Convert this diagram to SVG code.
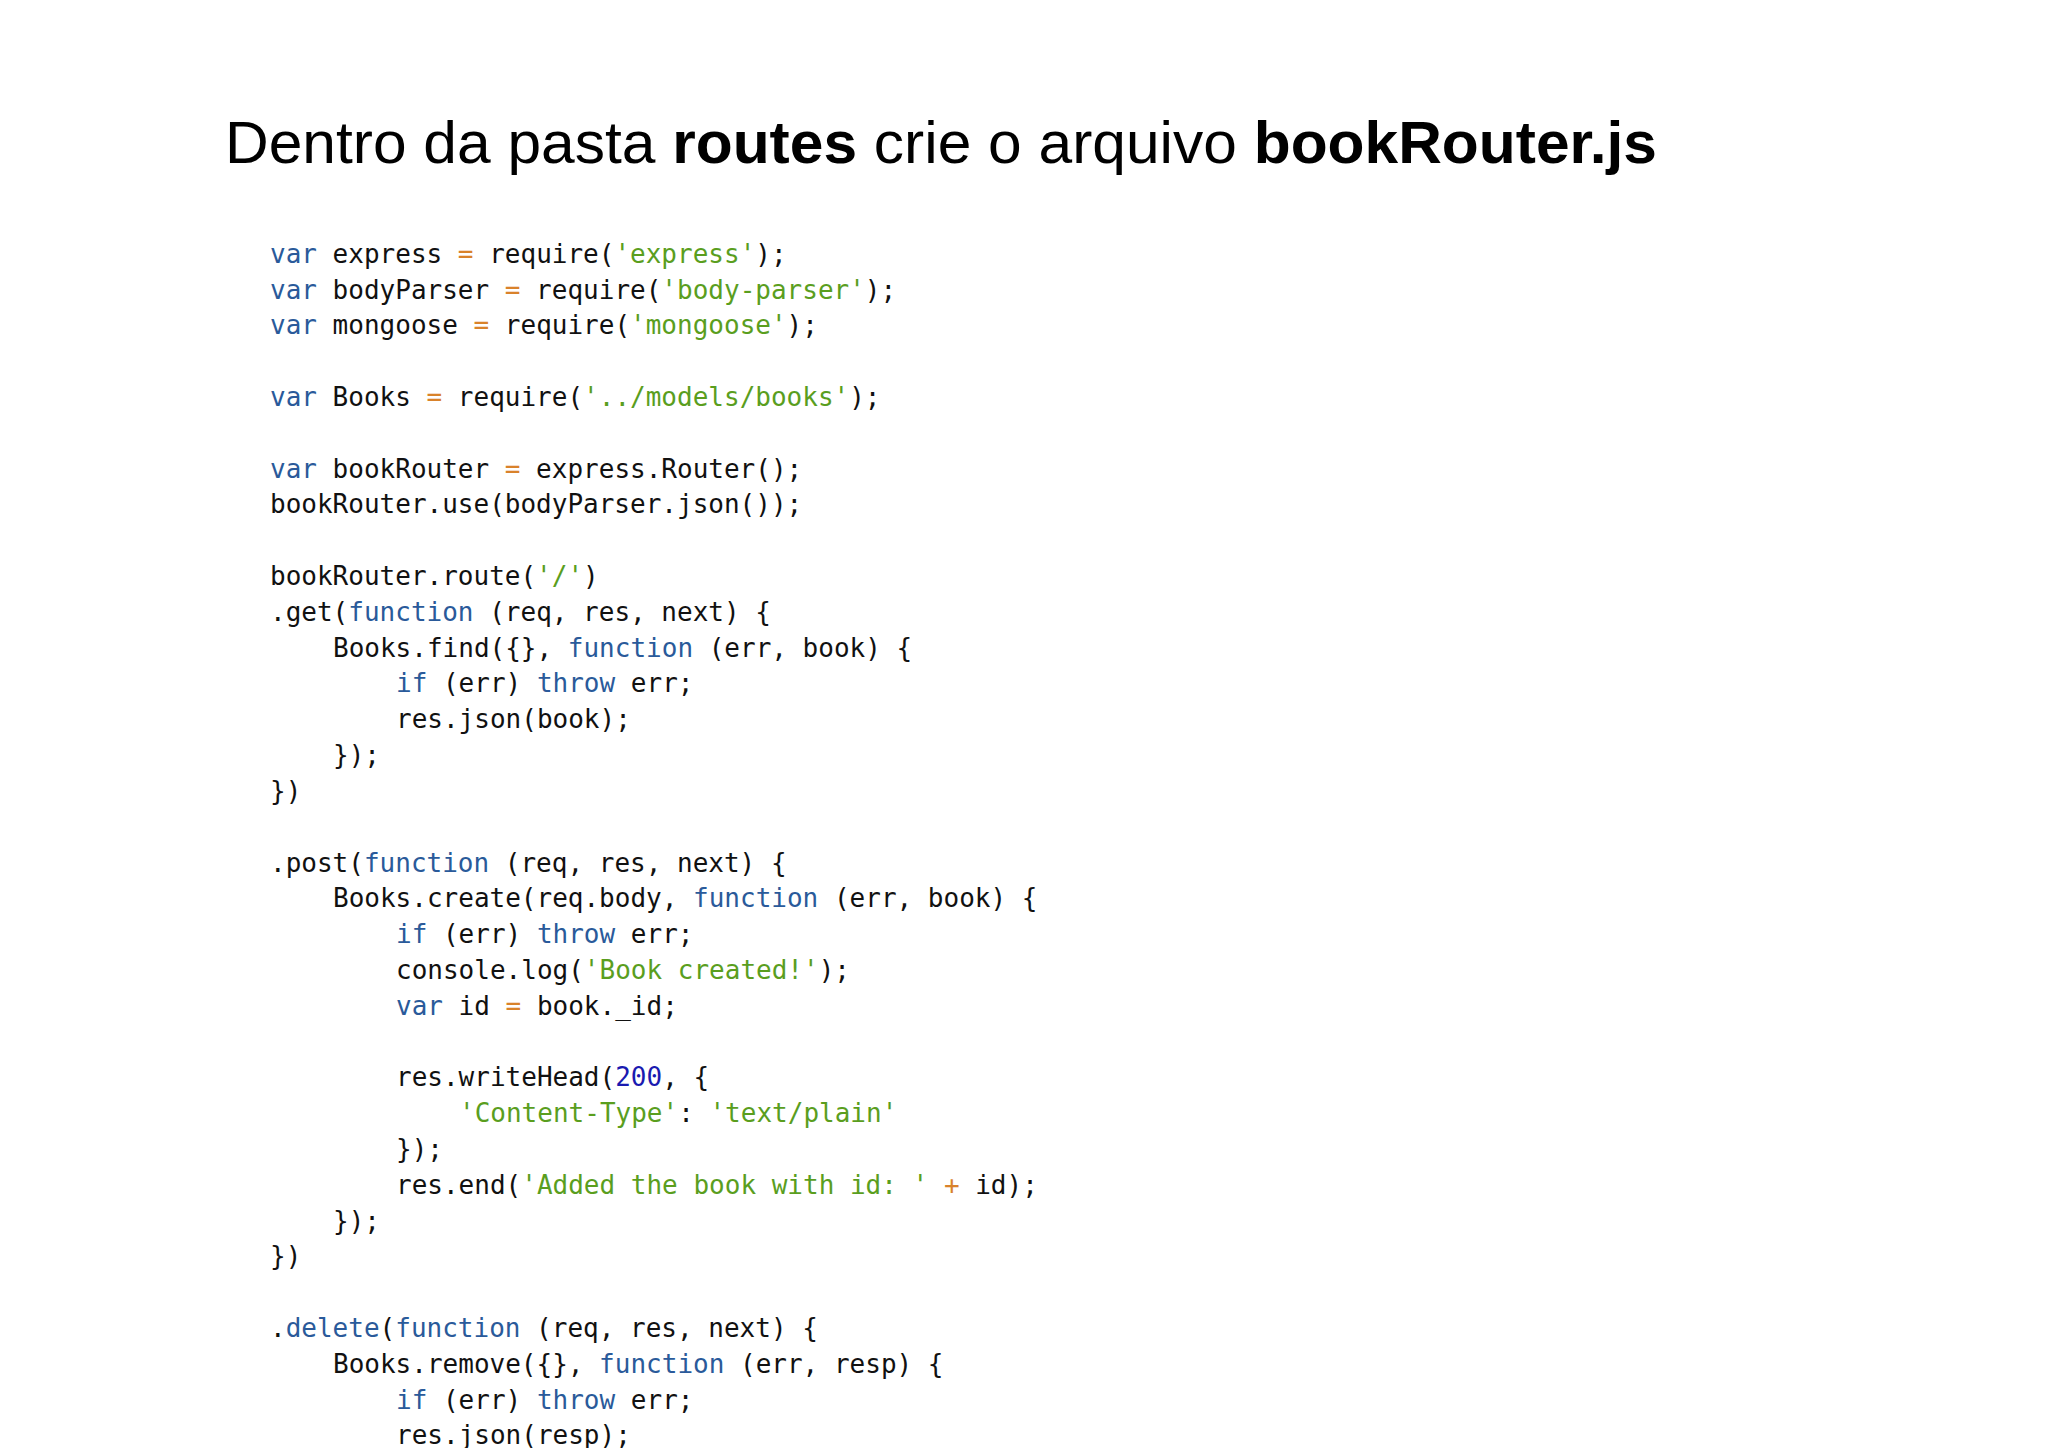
<svg xmlns="http://www.w3.org/2000/svg" width="2048" height="1448" viewBox="0 0 2048 1448">
<style>
.t{font-family:"Liberation Sans",Arial,sans-serif;font-size:60px;fill:#000}
.c{font-family:"DejaVu Sans Mono","Liberation Mono",monospace;font-size:26px;fill:#111}
.k{fill:#2a5a9a}.s{fill:#5a9e1e}.o{fill:#d9822b}.n{fill:#1a1ab0}
</style>
<rect width="2048" height="1448" fill="#fff"/>
<g id="title"><text class="t" x="225" y="163" textLength="1432" lengthAdjust="spacingAndGlyphs">Dentro da pasta <tspan font-weight="bold">routes</tspan> crie o arquivo <tspan font-weight="bold">bookRouter.js</tspan></text></g>
<g id="code" class="c">
<text x="270" y="263"><tspan class="k">var</tspan> express <tspan class="o">=</tspan> require(<tspan class="s">'express'</tspan>);</text>
<text x="270" y="299"><tspan class="k">var</tspan> bodyParser <tspan class="o">=</tspan> require(<tspan class="s">'body-parser'</tspan>);</text>
<text x="270" y="334"><tspan class="k">var</tspan> mongoose <tspan class="o">=</tspan> require(<tspan class="s">'mongoose'</tspan>);</text>
<text x="270" y="406"><tspan class="k">var</tspan> Books <tspan class="o">=</tspan> require(<tspan class="s">'../models/books'</tspan>);</text>
<text x="270" y="478"><tspan class="k">var</tspan> bookRouter <tspan class="o">=</tspan> express.Router();</text>
<text x="270" y="513">bookRouter.use(bodyParser.json());</text>
<text x="270" y="585">bookRouter.route(<tspan class="s">'/'</tspan>)</text>
<text x="270" y="621">.get(<tspan class="k">function</tspan> (req, res, next) {</text>
<text x="333" y="657">Books.find({}, <tspan class="k">function</tspan> (err, book) {</text>
<text x="396" y="692"><tspan class="k">if</tspan> (err) <tspan class="k">throw</tspan> err;</text>
<text x="396" y="728">res.json(book);</text>
<text x="333" y="764">});</text>
<text x="270" y="800">})</text>
<text x="270" y="872">.post(<tspan class="k">function</tspan> (req, res, next) {</text>
<text x="333" y="907">Books.create(req.body, <tspan class="k">function</tspan> (err, book) {</text>
<text x="396" y="943"><tspan class="k">if</tspan> (err) <tspan class="k">throw</tspan> err;</text>
<text x="396" y="979">console.log(<tspan class="s">'Book created!'</tspan>);</text>
<text x="396" y="1015"><tspan class="k">var</tspan> id <tspan class="o">=</tspan> book._id;</text>
<text x="396" y="1086">res.writeHead(<tspan class="n">200</tspan>, {</text>
<text x="459" y="1122"><tspan class="s">'Content-Type'</tspan>: <tspan class="s">'text/plain'</tspan></text>
<text x="396" y="1158">});</text>
<text x="396" y="1194">res.end(<tspan class="s">'Added the book with id: '</tspan> <tspan class="o">+</tspan> id);</text>
<text x="333" y="1230">});</text>
<text x="270" y="1265">})</text>
<text x="270" y="1337">.<tspan class="k">delete</tspan>(<tspan class="k">function</tspan> (req, res, next) {</text>
<text x="333" y="1373">Books.remove({}, <tspan class="k">function</tspan> (err, resp) {</text>
<text x="396" y="1409"><tspan class="k">if</tspan> (err) <tspan class="k">throw</tspan> err;</text>
<text x="396" y="1444">res.json(resp);</text>
</g>
</svg>
